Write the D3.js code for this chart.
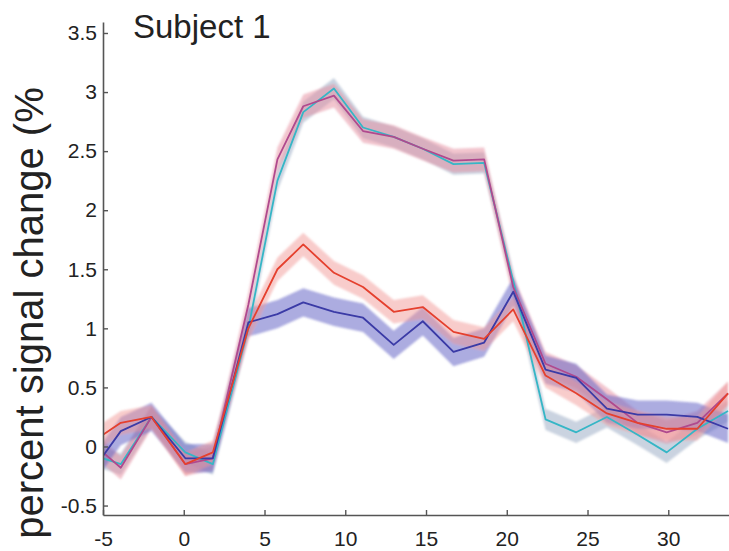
<!DOCTYPE html>
<html>
<head>
<meta charset="utf-8">
<script src="https://cdn.jsdelivr.net/npm/d3@7"></script>
<style>
  body { margin: 0; background: #fff; }
  svg { display: block; }
  text { font-family: "Liberation Sans", Arial, sans-serif; fill: #222; }
</style>
</head>
<body>
<script>
"use strict"

// time axis (s) of each sample
const time = [-5, -3.9, -2.0, 0.1, 1.8, 4.0, 5.8, 7.4, 9.3, 11.1, 13.0, 14.8, 16.7, 18.6, 20.4, 22.4, 24.3, 26.2, 28.1, 29.9, 31.8, 33.7]

// mean signal change per condition
const cyanMean    = [-0.1, -0.15, 0.25, -0.05, -0.15, 1.0, 2.25, 2.83, 3.03, 2.7, 2.62, 2.52, 2.39, 2.4, 1.4, 0.23, 0.12, 0.25, 0.1, -0.05, 0.15, 0.3]
const magentaMean = [-0.05, -0.18, 0.25, -0.15, -0.1, 1.2, 2.43, 2.88, 2.97, 2.67, 2.62, 2.52, 2.42, 2.43, 1.35, 0.7, 0.59, 0.4, 0.2, 0.12, 0.2, 0.45]
const redMean     = [0.1, 0.2, 0.25, -0.15, -0.05, 1.0, 1.5, 1.71, 1.47, 1.35, 1.14, 1.18, 0.97, 0.91, 1.16, 0.6, 0.45, 0.28, 0.2, 0.15, 0.15, 0.45]
const blueMean    = [-0.08, 0.13, 0.25, -0.1, -0.1, 1.05, 1.12, 1.22, 1.14, 1.09, 0.86, 1.06, 0.8, 0.88, 1.31, 0.65, 0.58, 0.32, 0.27, 0.27, 0.25, 0.15]

// half width of the shaded error band per condition
const bandHalf = [0.09, 0.1, 0.1, 0.12]

// tick labels
const xTicks = [-5, 0, 5, 10, 15, 20, 25, 30]
const yTicks = [-0.5, 0, 0.5, 1, 1.5, 2, 2.5, 3, 3.5]

const series = [
  { mean : cyanMean,    half : bandHalf[0], line : "#36b6c6", band : "#a7b5cc", bandOpacity : 0.6 },
  { mean : magentaMean, half : bandHalf[1], line : "#b04a8e", band : "#e68c9e", bandOpacity : 0.5 },
  { mean : blueMean,    half : bandHalf[3], line : "#3a3aa6", band : "#6868c6", bandOpacity : 0.55 },
  { mean : redMean,     half : bandHalf[2], line : "#e5402e", band : "#f19a98", bandOpacity : 0.5 },
]

const W = 729, H = 551

const x = d3.scaleLinear().domain([-5, 33.76]).range([103, 729])
const y = d3.scaleLinear().domain([-0.58, 3.593]).range([515, 22])

const svg = d3.select("body").append("svg")
  .attr("width", W)
  .attr("height", H)

const defs = svg.append("defs")
defs.append("clipPath").attr("id", "plot")
  .append("rect").attr("x", 103).attr("y", 0).attr("width", 626).attr("height", 515)
defs.append("filter").attr("id", "soft").attr("x", "-5%").attr("y", "-5%").attr("width", "110%").attr("height", "110%")
  .append("feGaussianBlur").attr("stdDeviation", 1.2)
defs.append("filter").attr("id", "softLine")
  .append("feGaussianBlur").attr("stdDeviation", 0.45)

const rows = s => time.map((t, i) => ({ t, v : s.mean[i], h : s.half }))

const area = d3.area()
  .x(d => x(d.t))
  .y0(d => y(d.v - d.h))
  .y1(d => y(d.v + d.h))

const line = d3.line()
  .x(d => x(d.t))
  .y(d => y(d.v))

const plot = svg.append("g").attr("clip-path", "url(#plot)")

// shaded bands first, then the mean lines on top
plot.append("g").attr("filter", "url(#soft)")
  .selectAll("path")
  .data(series)
  .join("path")
  .attr("d", s => area(rows(s)))
  .attr("fill", s => s.band)
  .attr("fill-opacity", s => s.bandOpacity)

plot.append("g").attr("filter", "url(#softLine)")
  .selectAll("path")
  .data(series)
  .join("path")
  .attr("d", s => line(rows(s)))
  .attr("fill", "none")
  .attr("stroke", s => s.line)
  .attr("stroke-width", 1.8)
  .attr("stroke-linejoin", "round")

// axes
svg.append("g")
  .attr("transform", "translate(0, 515)")
  .call(d3.axisBottom(x).tickValues(xTicks).tickFormat(d => String(d))
    .tickSizeInner(-5).tickSizeOuter(0).tickPadding(16))

svg.append("g")
  .attr("transform", "translate(103, 0)")
  .call(d3.axisLeft(y).tickValues(yTicks).tickFormat(d => String(d))
    .tickSizeInner(-5).tickSizeOuter(0).tickPadding(6))

svg.selectAll(".domain").attr("stroke", "#555").attr("stroke-width", 1.6)
svg.selectAll(".tick line").attr("stroke", "#555").attr("stroke-width", 1.4)
svg.selectAll(".tick text").style("font-size", "21px").attr("fill", "#222")

// labels
svg.append("text")
  .attr("x", 133)
  .attr("y", 38)
  .style("font-size", "33px")
  .text("Subject 1")

svg.append("text")
  .attr("transform", "translate(43, 313) rotate(-90)")
  .attr("text-anchor", "middle")
  .style("font-size", "40px")
  .text("percent signal change (%")
</script>
</body>
</html>
